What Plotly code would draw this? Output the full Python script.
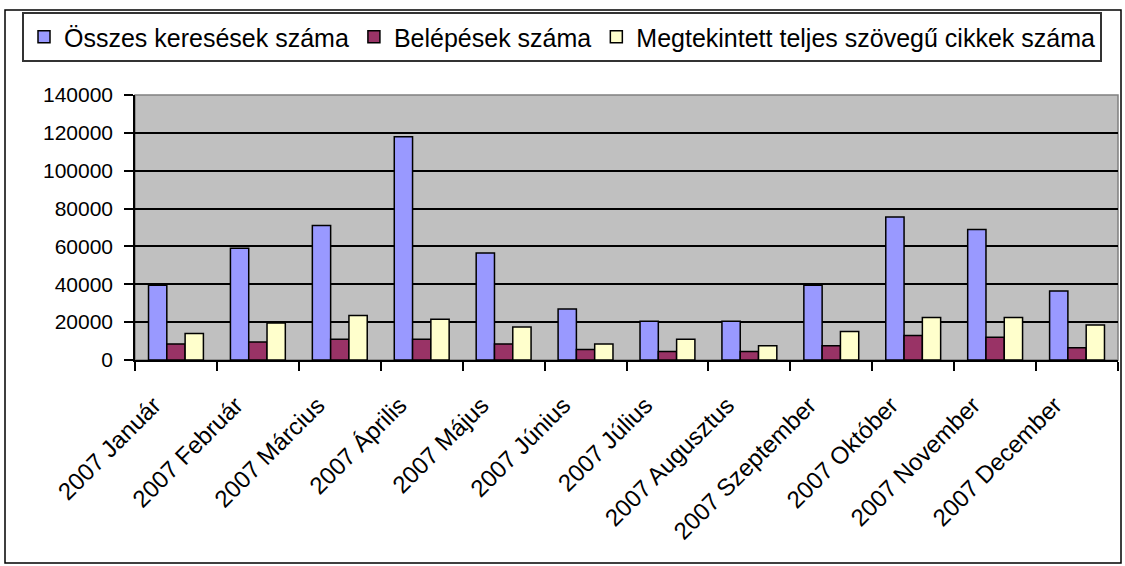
import plotly.graph_objects as go

months = ["2007 Január", "2007 Február", "2007 Március", "2007 Április", "2007 Május",
          "2007 Június", "2007 Július", "2007 Augusztus", "2007 Szeptember",
          "2007 Október", "2007 November", "2007 December"]
keresesek = [39500, 59000, 71000, 118000, 56500, 27000, 20500, 20500, 39500, 75500, 69000, 36500]
belepesek = [8500, 9500, 11000, 11000, 8500, 5500, 4500, 4500, 7500, 13000, 12000, 6500]
cikkek = [14000, 19500, 23500, 21500, 17500, 8500, 11000, 7500, 15000, 22500, 22500, 18500]

names = ["Összes keresések száma", "Belépések száma", "Megtekintett teljes szövegű cikkek száma"]
colors = ["#9999FF", "#993366", "#FFFFCC"]
yticks = [0, 20000, 40000, 60000, 80000, 100000, 120000, 140000]

W, H = 1125, 566
L, R, T, B = 135, 1118, 95, 360  # plot area pixel box
FONT = "Arial, Liberation Sans, sans-serif"

def px_x(p):
    return (p - L) / (R - L)

def px_y(p):
    return (B - p) / (B - T)

fig = go.Figure()
for name, vals, col in zip(names, [keresesek, belepesek, cikkek], colors):
    fig.add_trace(go.Bar(x=months, y=vals, name=name,
                         marker=dict(color=col, line=dict(color="black", width=1.5))))

fig.update_layout(
    width=W, height=H,
    margin=dict(l=L, r=W - R, t=T, b=H - B, pad=0, autoexpand=False),
    paper_bgcolor="white", plot_bgcolor="#C0C0C0",
    barmode="group", bargap=0.33, bargroupgap=0,
    font=dict(family=FONT, color="black"),
    showlegend=True,
    legend=dict(orientation="h", x=px_x(22), y=px_y(12), xanchor="left", yanchor="top",
                font=dict(size=25, family=FONT, color="black"),
                bgcolor="white", bordercolor="#333333", borderwidth=2,
                traceorder="normal", itemclick=False),
    xaxis=dict(type="category", tickangle=-45, tickson="boundaries",
               ticks="outside", ticklen=9, tickwidth=1.5, tickcolor="black",
               showline=True, linecolor="black", linewidth=1.5,
               showgrid=False, tickfont=dict(size=24, family=FONT, color="black"),
               ticklabelstandoff=20, ticklabelshift=-22),
    yaxis=dict(range=[0, 140000], tickvals=yticks, ticktext=[str(v) for v in yticks],
               ticks="outside", ticklen=9, tickwidth=1.5, tickcolor="black",
               showline=True, linecolor="black", linewidth=1.5,
               showgrid=True, gridcolor="black", gridwidth=1.5, zeroline=False,
               tickfont=dict(size=21, family=FONT, color="black"),
               ticklabelstandoff=7),
)

# plot area border (top/right in gray)
fig.add_shape(type="rect", xref="paper", yref="paper", x0=0, x1=1, y0=0, y1=1,
              line=dict(color="#808080", width=1.5), layer="below")
# outer chart border
fig.add_shape(type="rect", xref="paper", yref="paper",
              x0=px_x(5), x1=px_x(1121), y0=px_y(563), y1=px_y(10),
              line=dict(color="black", width=1.5), fillcolor="rgba(0,0,0,0)")

fig.write_html("out.html", config={"displayModeBar": False},
               post_script="document.body.style.margin='0';document.body.style.overflow='hidden';")
